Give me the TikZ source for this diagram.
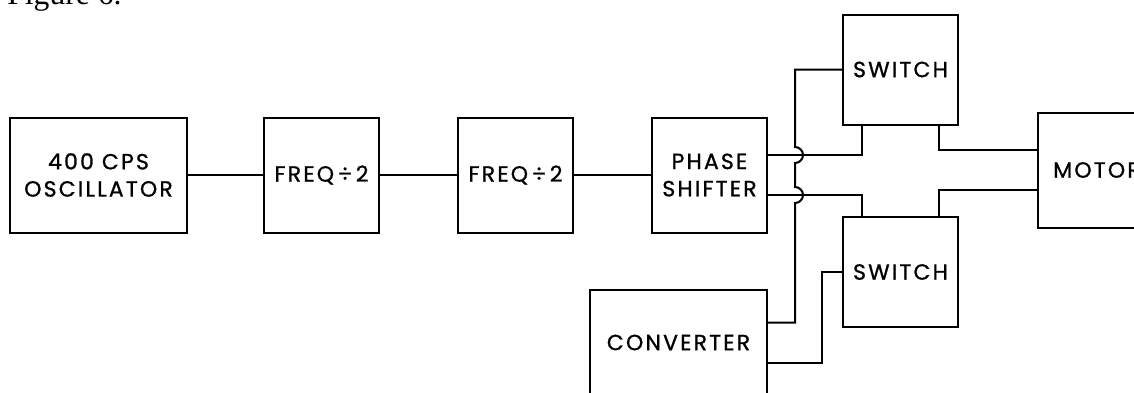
\documentclass[tikz,border=0pt]{standalone}
\usepackage{fontspec}
\setmainfont{Liberation Serif}
\newfontfamily\boxfont[LetterSpace=10, FakeBold=1]{Poppins}
\usetikzlibrary{
  calc,
  positioning
}
\tikzset{
  block/.style={
    draw,
    line width=0.4mm,
    minimum width=23mm,
    minimum height=23mm,
    inner sep=0pt,
    align=center,
    font=\boxfont\fontsize{12.5}{15.5}\selectfont
  },
  wideblock/.style={block, minimum width=35.4mm},
  switchbox/.style={block, minimum height=22mm},
  wire/.style={line width=0.4mm},
  caption/.style={font=\fontsize{18}{20}\selectfont, anchor=base west, inner sep=0pt}
}

\begin{document}
\begin{tikzpicture}[node distance=15.4mm]
  \useasboundingbox (0,0) rectangle (226.8mm,-78.4mm);
  \node[caption] (fig) at (1.4mm,-0.8mm) {Figure 6.};

  \node[wideblock] (osc) at (19.7mm,-35mm) {400 CPS\\OSCILLATOR};
  \node[block, right=15mm of osc] (div1) {FREQ\,÷\,2};
  \node[block, right=of div1] (div2) {FREQ\,÷\,2};
  \node[block, right=of div2] (phase) {PHASE\\SHIFTER};
  \node[switchbox, right=14.8mm of phase, yshift=21.1mm] (sw1) {SWITCH};
  \node[switchbox, right=14.8mm of phase, yshift=-19.4mm] (sw2) {SWITCH};
  \node[block, minimum width=23.6mm, right=53.8mm of phase, yshift=1mm] (motor) {MOTOR};
  \node[wideblock, minimum height=21mm, below=11.1mm of phase, xshift=-6.2mm] (conv)
    {CONVERTER};

  \draw[wire] (osc) -- (div1);
  \draw[wire] (div1) -- (div2);
  \draw[wire] (div2) -- (phase);

  \coordinate (bus) at ($(phase.east)+(5.4mm,0)$);
  \draw[wire] ($(phase.east)+(0,4mm)$) -| ($(sw1.south)+(-7.7mm,0)$);
  \draw[wire] ($(phase.east)+(0,-4mm)$) -| ($(sw2.north)+(-7.7mm,0)$);
  \draw[wire] ($(sw1.south)+(7.7mm,0)$) |- ($(motor.west)+(0,4mm)$);
  \draw[wire] ($(sw2.north)+(7.7mm,0)$) |- ($(motor.west)+(0,-4mm)$);

  % converter feeds, hopping over the phase lines
  \draw[wire] ($(conv.east)+(0,4mm)$) -| ($(bus)+(0,-5.6mm)$)
    arc[start angle=-90, end angle=90, radius=1.6mm] -- ($(bus)+(0,2.4mm)$)
    arc[start angle=-90, end angle=90, radius=1.6mm] |- (sw1.west);
  \draw[wire] ($(conv.east)+(0,-4mm)$) -| ($(sw2.west)+(-4mm,0)$) -- (sw2.west);
\end{tikzpicture}
\end{document}
